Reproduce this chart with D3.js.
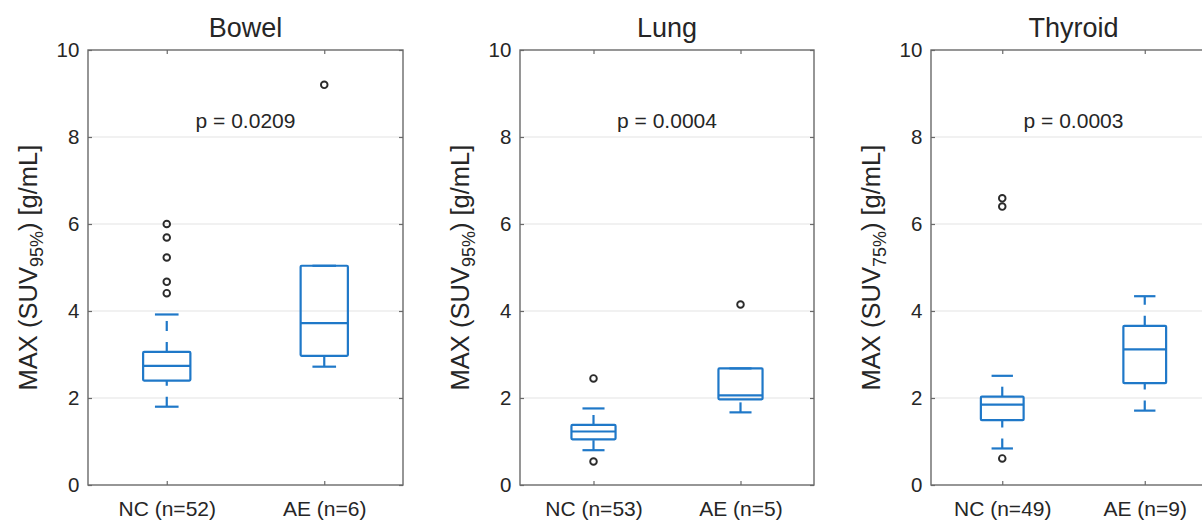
<!DOCTYPE html>
<html>
<head>
<meta charset="utf-8">
<script src="https://cdn.jsdelivr.net/npm/d3@7"></script>
<style>
   body { margin: 0; background: #fff; }
   text { font-family: Arial, "Liberation Sans", Helvetica, sans-serif; fill: #262626; }
</style>
</head>
<body>
<div id="chart"></div>
<script>
let panelTitles = ["Bowel", "Lung", "Thyroid"]
let groupLabels = [["NC (n=52)", "AE (n=6)"], ["NC (n=53)", "AE (n=5)"], ["NC (n=49)", "AE (n=9)"]]
let pLabels = ["p = 0.0209", "p = 0.0004", "p = 0.0003"]
let labelSubs = ["95%", "95%", "75%"]
let yTicks = [0, 2, 4, 6, 8, 10]

// box statistics per panel, [NC, AE]
let whiskerLow = [[1.80, 2.72], [0.80, 1.67], [0.84, 1.71]]
let quart1 = [[2.40, 2.97], [1.05, 1.97], [1.49, 2.34]]
let medians = [[2.74, 3.72], [1.23, 2.06], [1.85, 3.12]]
let quart3 = [[3.06, 5.04], [1.38, 2.68], [2.03, 3.66]]
let whiskerHigh = [[3.92, 5.04], [1.76, 2.68], [2.51, 4.34]]
let outliers = [
   [[4.41, 4.67, 5.23, 5.69, 6.00], [9.20]],
   [[0.54, 2.45], [4.15]],
   [[0.61, 6.40, 6.59], []]
]

// layout of the three axes
let panelLeft = [88, 520, 931]
let panelWidth = [315, 294, 285]
let plotTop = 50, plotBottom = 485
let plotHeight = plotBottom - plotTop
let blue = "#1f78c8"
let frameColor = "#6a6a6a"

let svg = d3.select("#chart").append("svg")
   .attr("width", 1202)
   .attr("height", 521)

panelTitles.forEach(function (title, p) {
   drawPanel(p)
})

function drawPanel(p) {
   let width = panelWidth[p]
   let height = plotHeight

   let x = d3.scaleLinear().domain([0.5, 2.5]).range([0, width])
   let y = d3.scaleLinear().domain([0, 10]).range([height, 0])

   let g = svg.append("g")
      .attr("transform", "translate(" + panelLeft[p] + "," + plotTop + ")")

   // grid lines
   g.selectAll("line.grid").data(yTicks.slice(1, -1))
      .join("line")
      .attr("class", "grid")
      .attr("x1", 0)
      .attr("x2", width)
      .attr("y1", d => y(d))
      .attr("y2", d => y(d))
      .attr("stroke", "#e3e3e3")
      .attr("stroke-width", 1.2)

   // axes with inside ticks
   let leftAxis = g.append("g")
      .call(d3.axisLeft(y).tickValues(yTicks).tickSize(-4).tickPadding(8.7))
   let bottomAxis = g.append("g")
      .attr("transform", "translate(0," + height + ")")
      .call(d3.axisBottom(x).tickValues([1, 2]).tickSize(-4).tickPadding(16.2)
         .tickFormat(d => groupLabels[p][d - 1]))
   let topAxis = g.append("g")
      .call(d3.axisTop(x).tickValues([1, 2]).tickSize(-4).tickFormat(""))
   let rightAxis = g.append("g")
      .attr("transform", "translate(" + width + ",0)")
      .call(d3.axisRight(y).tickValues(yTicks).tickSize(-4).tickFormat(""))

   let axes = [leftAxis, bottomAxis, topAxis, rightAxis]
   axes.forEach(function (a) {
      a.select(".domain").remove()
      a.selectAll("line").attr("stroke", frameColor).attr("stroke-width", 1.2)
      a.selectAll("text")
         .attr("font-family", null)
         .style("font-size", "20.5px")
         .attr("fill", "#262626")
   })
   bottomAxis.selectAll("text").style("font-size", "21px")

   g.append("rect")
      .attr("width", width)
      .attr("height", height)
      .attr("fill", "none")
      .attr("stroke", frameColor)
      .attr("stroke-width", 1.4)

   // boxes
   let groups = [0, 1].map(function (i) {
      return {
         pos: i + 1,
         lo: whiskerLow[p][i],
         q1: quart1[p][i],
         med: medians[p][i],
         q3: quart3[p][i],
         hi: whiskerHigh[p][i],
         out: outliers[p][i]
      }
   })

   let box = g.selectAll("g.box").data(groups)
      .join("g")
      .attr("class", "box")
      .attr("fill", "none")
      .attr("stroke", blue)
      .attr("stroke-width", 2.2)

   // whiskers, drawn upwards so the dashes start at the lower end
   box.append("line")
      .attr("x1", d => x(d.pos)).attr("x2", d => x(d.pos))
      .attr("y1", d => y(d.lo)).attr("y2", d => y(d.q1))
      .attr("stroke-dasharray", "10,11")
   box.append("line")
      .attr("x1", d => x(d.pos)).attr("x2", d => x(d.pos))
      .attr("y1", d => y(d.q3)).attr("y2", d => y(d.hi))
      .attr("stroke-dasharray", "10,11")

   // whisker caps
   box.selectAll("line.cap").data(d => [[d.pos, d.lo], [d.pos, d.hi]])
      .join("line")
      .attr("class", "cap")
      .attr("x1", d => x(d[0] - 0.075))
      .attr("x2", d => x(d[0] + 0.075))
      .attr("y1", d => y(d[1]))
      .attr("y2", d => y(d[1]))

   box.append("rect")
      .attr("x", d => x(d.pos - 0.15))
      .attr("width", d => x(d.pos + 0.15) - x(d.pos - 0.15))
      .attr("y", d => y(d.q3))
      .attr("height", d => y(d.q1) - y(d.q3))
      .attr("rx", 1)

   box.append("line")
      .attr("x1", d => x(d.pos - 0.15))
      .attr("x2", d => x(d.pos + 0.15))
      .attr("y1", d => y(d.med))
      .attr("y2", d => y(d.med))

   // outliers
   box.selectAll("circle").data(d => d.out.map(v => [d.pos, v]))
      .join("circle")
      .attr("cx", d => x(d[0]))
      .attr("cy", d => y(d[1]))
      .attr("r", 3.3)
      .attr("stroke", "#2b2b2b")
      .attr("stroke-width", 1.9)

   // title and p value
   g.append("text")
      .attr("x", width / 2)
      .attr("y", 37 - plotTop)
      .attr("text-anchor", "middle")
      .style("font-size", "27px")
      .text(panelTitles[p])

   g.append("text")
      .attr("x", width / 2)
      .attr("y", 128 - plotTop)
      .attr("text-anchor", "middle")
      .style("font-size", "21px")
      .text(pLabels[p])

   // y label with subscript
   let label = g.append("text")
      .attr("transform", "translate(-51," + (height / 2) + ") rotate(-90)")
      .attr("text-anchor", "middle")
      .style("font-size", "25.5px")
   label.append("tspan").text("MAX (SUV")
   label.append("tspan").attr("dy", 6).style("font-size", "18px").text(labelSubs[p])
   label.append("tspan").attr("dy", -6).text(") [g/mL]")
}
</script>
</body>
</html>
